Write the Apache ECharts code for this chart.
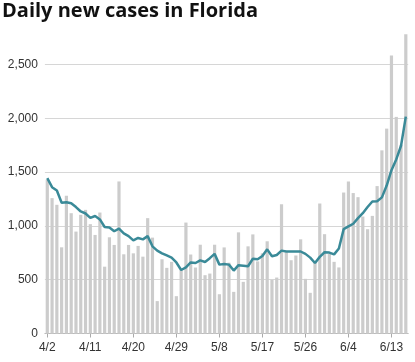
<!DOCTYPE html>
<html>
<head>
<meta charset="utf-8">
<script src="https://cdn.jsdelivr.net/npm/echarts@6/dist/echarts.min.js"></script>
<style>
html,body{margin:0;padding:0;background:#fff;}
#chart{width:415px;height:362px;}
</style>
</head>
<body>
<div id="chart"></div>
<script>
const titleText = "Daily new cases in Florida";
const dates = [
  "4/2","4/3","4/4","4/5","4/6","4/7","4/8","4/9","4/10","4/11","4/12","4/13","4/14","4/15","4/16","4/17","4/18","4/19","4/20",
  "4/21","4/22","4/23","4/24","4/25","4/26","4/27","4/28","4/29","4/30",
  "5/1","5/2","5/3","5/4","5/5","5/6","5/7","5/8","5/9","5/10","5/11","5/12","5/13","5/14","5/15","5/16","5/17","5/18","5/19","5/20",
  "5/21","5/22","5/23","5/24","5/25","5/26","5/27","5/28","5/29","5/30","5/31",
  "6/1","6/2","6/3","6/4","6/5","6/6","6/7","6/8","6/9","6/10","6/11","6/12","6/13","6/14","6/15","6/16"
];
const dailyCases = [
  1430,1258,1196,801,1280,1118,947,1103,1149,1016,916,1124,621,894,823,1413,736,823,745,
  814,714,1072,891,301,690,610,666,347,588,
  1031,734,613,825,542,557,825,365,800,658,387,940,480,810,921,670,745,857,498,520,
  1202,755,681,725,875,508,378,665,1208,923,740,
  666,614,1310,1413,1305,1267,1087,969,1093,1370,1702,1904,2584,2013,1755,2780
];
const avgCases = [
  1444,1360,1329,1215,1220,1211,1175,1134,1115,1075,1092,1060,990,985,950,975,930,905,865,
  888,875,905,810,770,745,725,705,660,590,
  615,660,655,680,665,700,740,640,645,640,585,635,630,625,695,690,720,782,718,730,
  770,762,762,762,762,740,705,655,712,755,752,
  735,790,970,995,1020,1072,1118,1175,1227,1230,1265,1375,1518,1618,1745,2015
];
const yTickStep = 500;

const chart = echarts.init(document.getElementById('chart'), null, {renderer:'canvas'});
chart.setOption({
  animation: false,
  backgroundColor: '#ffffff',
  title: {
    text: titleText,
    left: 2, top: 1, padding: 0,
    textStyle: {fontFamily: 'Open Sans', fontWeight: 'bold', fontSize: 20, color: '#111111'}
  },
  grid: {left: 44.9, right: 6.8, top: 32.2, bottom: 28.5, containLabel: false},
  xAxis: {
    type: 'category',
    data: dates,
    boundaryGap: true,
    axisLine: {show: true, lineStyle: {color: '#bbbbbb', width: 1}},
    axisTick: {show: true, alignWithLabel: true, interval: 8, length: 4, lineStyle: {color: '#aaaaaa'}},
    axisLabel: {interval: 8, margin: 8, fontFamily: 'Liberation Sans', fontSize: 12, color: '#333333'},
    splitLine: {show: false}
  },
  yAxis: {
    type: 'value',
    min: 0, max: 2800, interval: yTickStep,
    axisLine: {show: false},
    axisTick: {show: false},
    axisLabel: {
      showMaxLabel: false, margin: 7,
      fontFamily: 'Liberation Sans', fontSize: 12, color: '#333333',
      formatter: v => v.toLocaleString('en-US')
    },
    splitLine: {show: true, showMaxLine: false, lineStyle: {color: '#d6d6d6', width: 1}}
  },
  series: [
    {
      type: 'bar',
      data: dailyCases,
      barWidth: 3.2,
      itemStyle: {color: '#cccccc'},
      silent: true
    },
    {
      type: 'line',
      data: avgCases,
      symbol: 'none',
      lineStyle: {color: '#3a8a98', width: 2.5},
      silent: true,
      z: 5
    }
  ]
});
</script>
</body>
</html>
